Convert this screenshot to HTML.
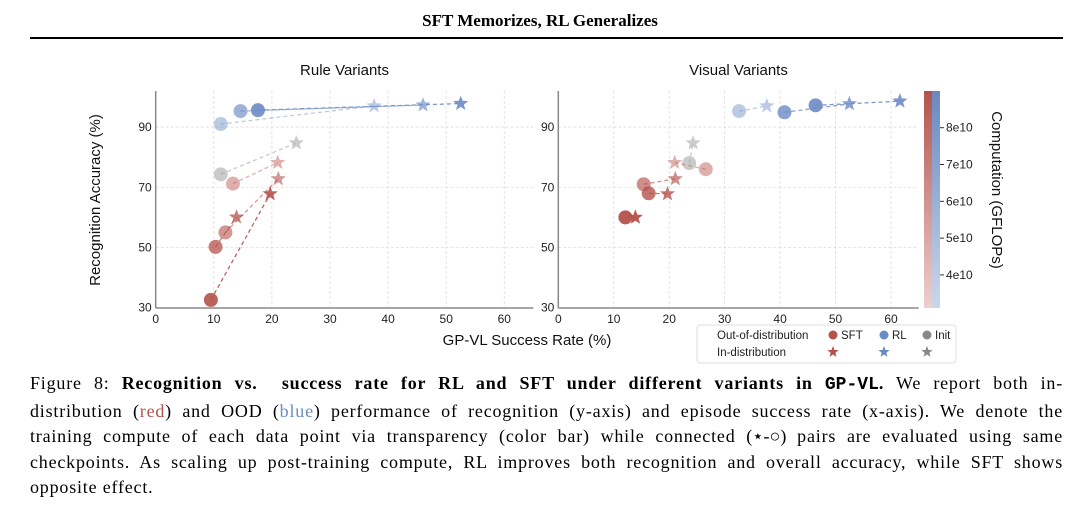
<!DOCTYPE html>
<html><head><meta charset="utf-8"><style>
body{margin:0;background:#fff;width:1080px;height:509px;overflow:hidden;position:relative;font-family:"Liberation Sans",sans-serif}
#hdr{position:absolute;left:0;width:1080px;top:11px;text-align:center;font:bold 17px "Liberation Serif",serif}
#rule{position:absolute;left:30px;width:1033px;top:37px;height:2px;background:#000}
#cap{position:absolute;left:30px;width:1033px;top:371px;font:18px/25.6px "Liberation Serif",serif;letter-spacing:0.8px;color:#000}
#cap div{white-space:nowrap;text-align:justify;text-align-last:justify}
#cap div.last{text-align-last:left}
.nb{display:inline-block;letter-spacing:0}
svg{position:absolute;left:0;top:0}
</style></head><body>
<div id="hdr">SFT Memorizes, RL Generalizes</div>
<div id="rule"></div>
<svg id="chart" width="1080" height="370">
<defs>
<linearGradient id="gr" x1="0" y1="1" x2="0" y2="0"><stop offset="0" stop-color="#ecd0cf"/><stop offset="1" stop-color="#b4534d"/></linearGradient>
<linearGradient id="gb" x1="0" y1="1" x2="0" y2="0"><stop offset="0" stop-color="#cbd6ea"/><stop offset="1" stop-color="#6a88c0"/></linearGradient>
</defs>
</svg>
<div id="cap">
<div>Figure 8: <b>Recognition vs.&nbsp; success rate for RL and SFT under different variants in <span class="nb" style="font-family:'Liberation Mono',monospace">GP-VL</span>.</b> We report both in-</div>
<div>distribution (<span style="color:#b5524c">red</span>) and OOD (<span style="color:#6b8bc4">blue</span>) performance of recognition (y-axis) and episode success rate (x-axis). We denote the</div>
<div>training compute of each data point via transparency (color bar) while connected <span class="nb">(⋆-○)</span> pairs are evaluated using same</div>
<div>checkpoints. As scaling up post-training compute, RL improves both recognition and overall accuracy, while SFT shows</div>
<div class="last">opposite effect.</div>
</div>
<script>
const ruleRL_ood_x=[11.2,14.6,17.6], ruleRL_ood_y=[91,95.3,95.6];
const ruleRL_id_x=[37.6,46,52.5], ruleRL_id_y=[97,97.3,97.8];
const ruleRL_alpha=[0.45,0.65,0.9];
const ruleInit=[11.2,74.3,24.2,84.7];
const ruleSFT_ood_x=[13.3,12,10.3,9.5], ruleSFT_ood_y=[71.2,55,50.2,32.6];
const ruleSFT_id_x=[21,21.1,13.9,19.7], ruleSFT_id_y=[78.2,72.8,60.1,67.8];
const ruleSFT_alpha=[0.45,0.6,0.75,0.9];
const visRL_ood_x=[32.6,40.8,46.4], visRL_ood_y=[95.3,94.9,97.2];
const visRL_id_x=[37.6,52.5,61.6], visRL_id_y=[97,97.7,98.6];
const visRL_alpha=[0.45,0.8,0.9];
const visInit=[23.6,78,24.3,84.7];
const visSFT_ood_x=[26.6,15.4,16.3,12.1], visSFT_ood_y=[76,71,68,60];
const visSFT_id_x=[21,21.1,19.7,13.9], visSFT_id_y=[78.2,72.8,67.8,60];
const visSFT_alpha=[0.45,0.65,0.8,0.95];
const xTicks=[0,10,20,30,40,50,60], yTicks=[30,50,70,90];
const cbTicks=[4,5,6,7,8];

const svg=document.getElementById('chart');const NS='http://www.w3.org/2000/svg';
function el(t,a,p){const e=document.createElementNS(NS,t);for(const k in a)e.setAttribute(k,a[k]);(p||svg).appendChild(e);return e;}
function txt(x,y,s,a,p){const e=el('text',Object.assign({x:x,y:y,'font-family':'Liberation Sans, sans-serif'},a),p);e.textContent=s;return e;}
const RED='#b5524c',BLUE='#6b8bc4',GREY='#a0a0a0';
function star(cx,cy,r){let p=[];for(let i=0;i<10;i++){const a=-Math.PI/2+i*Math.PI/5,rr=i%2?r*0.42:r;p.push((cx+rr*Math.cos(a)).toFixed(1)+','+(cy+rr*Math.sin(a)).toFixed(1));}return p.join(' ');}
function panel(x0,x60,title,name,groups){
  const sx=v=>x0+(x60-x0)*v/60, sy=v=>307.7-(v-30)*3.011;
  const g=el('g',{});
  
  
  const right=x0+(x60-x0)*65/60;
  xTicks.forEach(t=>{const l=el('line',{x1:sx(t),x2:sx(t),y1:91,y2:307.7,stroke:'#ddd','stroke-dasharray':'3,2','stroke-width':0.8},g);
    
    const tt=txt(sx(t),323,t,{'font-size':12,'text-anchor':'middle',fill:'#222'},g);});
  yTicks.forEach(t=>{if(t>30){const l=el('line',{x1:x0,x2:right,y1:sy(t),y2:sy(t),stroke:'#ddd','stroke-dasharray':'3,2','stroke-width':0.8},g);}
    const tt=txt(x0-4,sy(t)+4,t,{'font-size':12,'text-anchor':'end',fill:'#222'},g);});
  el('line',{x1:x0,x2:x0,y1:91,y2:308,stroke:'#888','stroke-width':1.5},g);
  el('line',{x1:x0,x2:right,y1:308,y2:308,stroke:'#888','stroke-width':1.5},g);
  const t=txt((x0+right)/2,75,title,{'font-size':15,'text-anchor':'middle',fill:'#111'},g);
  
  groups.forEach(G=>{
    for(let i=0;i<G.ox.length;i++){
      const a=G.al[i];
      const ln=el('line',{x1:sx(G.ox[i]),y1:sy(G.oy[i]),x2:sx(G.ix[i]),y2:sy(G.iy[i]),stroke:G.c,'stroke-opacity':a,'stroke-dasharray':'4,3','stroke-width':1.3},g);
      
      const c=el('circle',{cx:sx(G.ox[i]),cy:sy(G.oy[i]),r:7,fill:G.c,'fill-opacity':a},g);
      
      const s=el('polygon',{points:star(sx(G.ix[i]),sy(G.iy[i]),8),fill:G.c,'fill-opacity':a},g);
      
    }
  });
}
panel(155.7,504.3,'Rule Variants','rule-variants-plot',[
 {ox:[ruleInit[0]],oy:[ruleInit[1]],ix:[ruleInit[2]],iy:[ruleInit[3]],al:[0.55],c:GREY},
 {ox:ruleSFT_ood_x,oy:ruleSFT_ood_y,ix:ruleSFT_id_x,iy:ruleSFT_id_y,al:ruleSFT_alpha,c:RED},
 {ox:ruleRL_ood_x,oy:ruleRL_ood_y,ix:ruleRL_id_x,iy:ruleRL_id_y,al:ruleRL_alpha,c:BLUE}]);
panel(558.3,891,'Visual Variants','visual-variants-plot',[
 {ox:[visInit[0]],oy:[visInit[1]],ix:[visInit[2]],iy:[visInit[3]],al:[0.55],c:GREY},
 {ox:visSFT_ood_x,oy:visSFT_ood_y,ix:visSFT_id_x,iy:visSFT_id_y,al:visSFT_alpha,c:RED},
 {ox:visRL_ood_x,oy:visRL_ood_y,ix:visRL_id_x,iy:visRL_id_y,al:visRL_alpha,c:BLUE}]);
let yl=txt(0,0,'Recognition Accuracy (%)',{'font-size':15,'text-anchor':'middle',fill:'#111',transform:'translate(100,200) rotate(-90)'});

let xl=txt(527,345,'GP-VL Success Rate (%)',{'font-size':15,'text-anchor':'middle',fill:'#111'});

const cb=el('g',{});

el('rect',{x:924,y:91,width:8,height:217,fill:'url(#gr)'},cb);
el('rect',{x:932,y:91,width:8,height:217,fill:'url(#gb)'},cb);
const cy=v=>127.7+(8-v)*36.8;
cbTicks.forEach(v=>{el('line',{x1:940,x2:944,y1:cy(v),y2:cy(v),stroke:'#333'},cb);
 const t=txt(946,cy(v)+4,v+'e10',{'font-size':12,fill:'#222'},cb);});
let ct=txt(0,0,'Computation (GFLOPs)',{'font-size':15,'text-anchor':'middle',fill:'#111',transform:'translate(992,190) rotate(90)'});

const lg=el('g',{});

el('rect',{x:697,y:325,width:259,height:38,rx:3,fill:'#fff',stroke:'#ddd'},lg);
txt(717,339,'Out-of-distribution',{'font-size':11.5,fill:'#222'},lg);
txt(717,356,'In-distribution',{'font-size':11.5,fill:'#222'},lg);
[[833,RED,'SFT'],[884,BLUE,'RL'],[927,'#888','Init']].forEach(d=>{
 const c=el('circle',{cx:d[0],cy:335,r:4.5,fill:d[1]},lg);
 txt(d[0]+8,339,d[2],{'font-size':11.5,fill:'#222'},lg);
 const s=el('polygon',{points:star(d[0],352,6),fill:d[1]},lg);
});
</script>
</body></html>
